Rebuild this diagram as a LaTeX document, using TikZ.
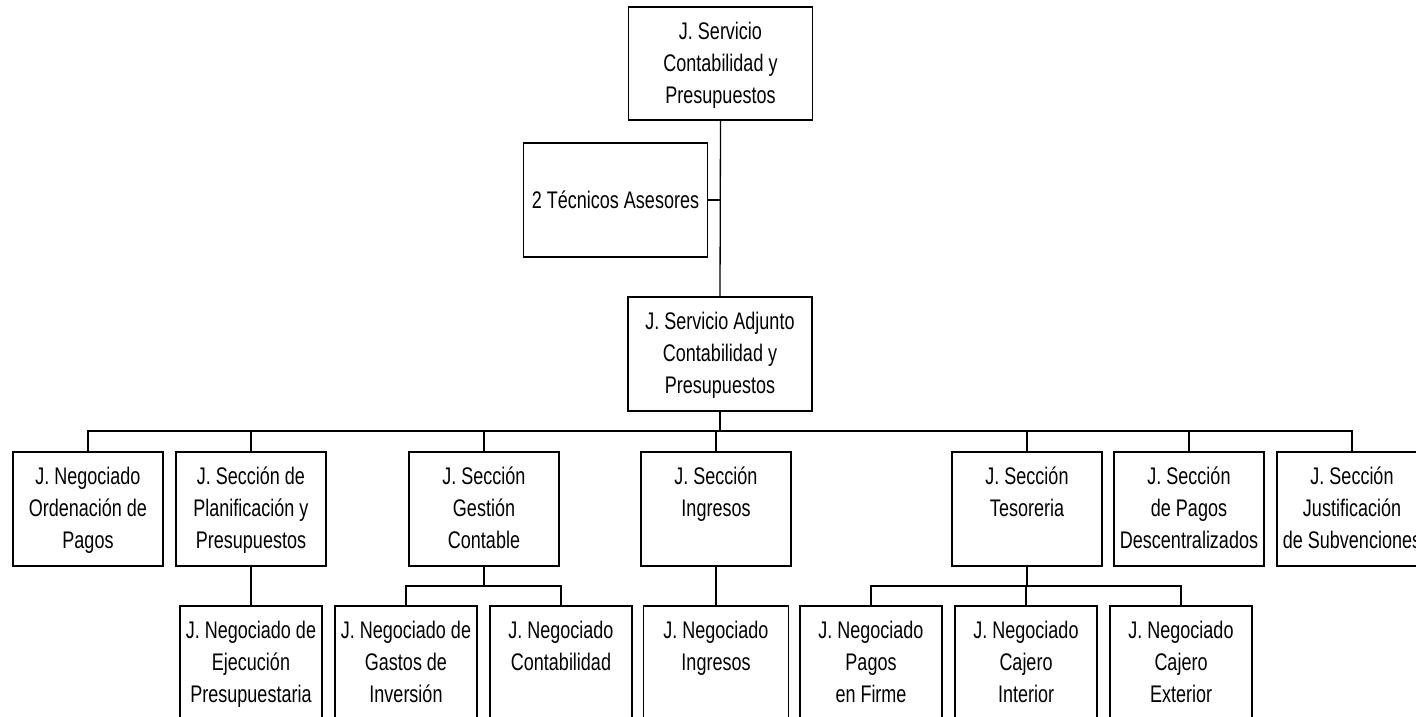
\documentclass[tikz,border=0pt]{standalone}
\usepackage{fontspec}
\setmainfont{Liberation Sans}[FakeStretch=0.75]
\begin{document}
\begin{tikzpicture}[x=1pt,y=-1pt,
  box/.style={draw, line width=1.3pt, inner sep=0pt, minimum height=114pt},
  wide/.style={box, minimum width=150pt},
  narrowbox/.style={box, minimum width=142pt},
  big/.style={box, minimum width=184pt},
  txt/.style={anchor=base, align=center, inner sep=0pt,
    font=\fontsize{24pt}{32pt}\selectfont},
  conn/.style={line width=1.3pt}]
\clip (0,0) rectangle (1416,717);
% top level
\node[big, minimum height=113pt] (top) at (720.5,63.5) {};
\node[txt] at ([yshift=-97pt]top.north) {J. Servicio\\Contabilidad y\\Presupuestos};
\node[big] (ases) at (615.5,200) {};
\node[txt] at ([yshift=-8pt]ases.center) {2 Técnicos Asesores};
\node[big] (adj) at (720,354) {};
\node[txt] at ([yshift=-97pt]adj.north) {J. Servicio Adjunto\\Contabilidad y\\Presupuestos};
% row 2
\node[wide] (r1) at (88,509) {};
\node[wide] (r2) at (251,509) {};
\node[wide] (r3) at (484,509) {};
\node[wide] (r4) at (716,509) {};
\node[wide] (r5) at (1027,509) {};
\node[wide] (r6) at (1189,509) {};
\node[wide] (r7) at (1352,509) {};
\node[txt] at ([yshift=-97pt]r1.north) {J. Negociado\\Ordenación de\\Pagos};
\node[txt] at ([yshift=-97pt]r2.north) {J. Sección de\\Planificación y\\Presupuestos};
\node[txt] at ([yshift=-97pt]r3.north) {J. Sección\\Gestión\\Contable};
\node[txt] at ([yshift=-65pt]r4.north) {J. Sección\\Ingresos};
\node[txt] at ([yshift=-65pt]r5.north) {J. Sección\\Tesoreria};
\node[txt] at ([yshift=-97pt]r6.north) {J. Sección\\de Pagos\\Descentralizados};
\node[txt] at ([yshift=-97pt]r7.north) {J. Sección\\Justificación\\de Subvenciones};
% row 3
\node[narrowbox] (s1) at (251,663) {};
\node[narrowbox] (s2) at (406,663) {};
\node[narrowbox] (s3) at (561,663) {};
\node[narrowbox, minimum width=145pt] (s4) at (716,663) {};
\node[narrowbox] (s5) at (871,663) {};
\node[narrowbox] (s6) at (1026,663) {};
\node[narrowbox] (s7) at (1181,663) {};
\node[txt] at ([yshift=-97pt]s1.north) {J. Negociado de\\Ejecución\\Presupuestaria};
\node[txt] at ([yshift=-97pt]s2.north) {J. Negociado de\\Gastos de\\Inversión};
\node[txt] at ([yshift=-65pt]s3.north) {J. Negociado\\Contabilidad};
\node[txt] at ([yshift=-65pt]s4.north) {J. Negociado\\Ingresos};
\node[txt] at ([yshift=-97pt]s5.north) {J. Negociado\\Pagos\\en Firme};
\node[txt] at ([yshift=-97pt]s6.north) {J. Negociado\\Cajero\\Interior};
\node[txt] at ([yshift=-97pt]s7.north) {J. Negociado\\Cajero\\Exterior};
% connectors
\coordinate (bus) at (720,431);
\coordinate (gb) at (484,586);
\coordinate (tb) at (1027,586);
\draw[conn] (top.south) -- (adj.north);
\draw[conn] (ases.east) -- (ases.east -| top.south);
\draw[conn] (adj.south) -- (bus);
\foreach \n in {r1,r2,r3,r4,r5,r6,r7} \draw[conn] (\n.north) |- (bus);
\draw[conn] (r2.south) -- (s1.north);
\draw[conn] (r3.south) -- (gb);
\draw[conn] (s2.north) |- (gb);
\draw[conn] (s3.north) |- (gb);
\draw[conn] (r4.south) -- (s4.north);
\draw[conn] (r5.south) -- (tb);
\foreach \n in {s5,s6,s7} \draw[conn] (\n.north) |- (tb);
\end{tikzpicture}
\end{document}
